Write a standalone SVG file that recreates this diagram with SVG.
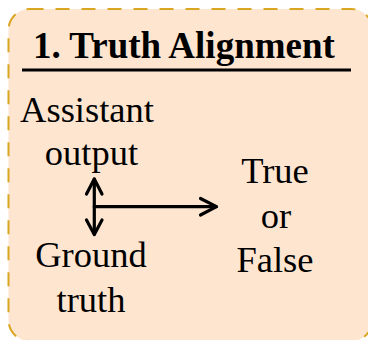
<svg xmlns="http://www.w3.org/2000/svg" width="368" height="340" viewBox="0 0 368 340">
<style>
.t{font-family:"Liberation Serif","Times New Roman",serif;font-size:36.5px;fill:#000;text-anchor:middle}
.h{font-family:"Liberation Serif","Times New Roman",serif;font-size:37px;font-weight:bold;fill:#000}
.a{stroke:#000;stroke-width:3.2;fill:none;stroke-linecap:round;stroke-linejoin:round}
</style>
<g id="panel">
<rect x="8.5" y="9" width="364" height="332" rx="21" fill="#FDE5D0" stroke="#DAA520" stroke-width="2" stroke-dasharray="14 12"/>
<text class="h" x="33" y="58">1. Truth Alignment</text>
<line x1="22" y1="70" x2="351" y2="70" stroke="#000" stroke-width="3.2"/>
</g>
<g id="assistant"><text class="t" x="87" y="122">Assistant</text><text class="t" x="91.5" y="165">output</text></g>
<g id="ground"><text class="t" x="91" y="267">Ground</text><text class="t" x="91" y="312">truth</text></g>
<g id="result"><text class="t" x="275" y="183">True</text><text class="t" x="276" y="228">or</text><text class="t" x="275" y="272">False</text></g>
<g id="connectors">
<line class="a" x1="94.3" y1="179" x2="94.3" y2="234"/>
<polyline class="a" points="86.5,194 94.3,179 102,194"/>
<polyline class="a" points="86.5,220 94.3,234.5 102,220"/>
<line class="a" x1="94.3" y1="206.7" x2="216" y2="206.7"/>
<polyline class="a" points="200.5,198.5 216.5,206.7 200.5,215"/>
</g>
</svg>
